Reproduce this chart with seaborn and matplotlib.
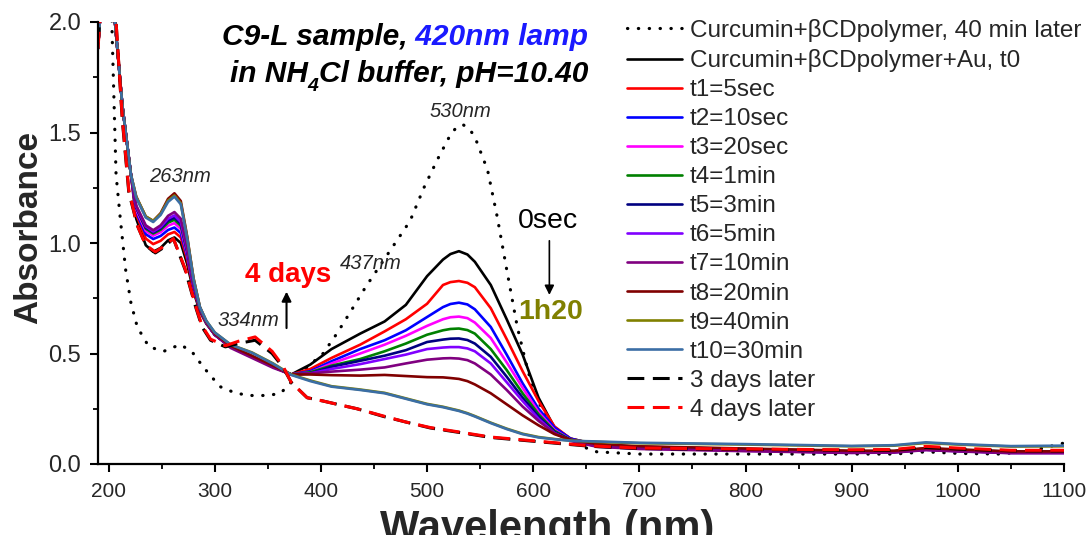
import numpy as np
import pandas as pd
import matplotlib
matplotlib.use("Agg")
import matplotlib.pyplot as plt
from matplotlib import font_manager
import seaborn as sns

# ---------------- data ----------------
wl_solid = [190, 196, 206, 213, 221,
            226, 235, 242, 249, 256, 262, 268, 274, 280, 286,
            292, 300, 315, 335, 355, 372,
            390, 410, 437, 460, 480, 500, 515, 522, 530, 538, 545, 560, 575, 590, 605, 620, 635,
            660, 700, 800, 900, 940, 970, 1000, 1050, 1100]
head = [1.88, 2.30, 2.00, 1.62, 1.31]

t0 = head + [1.11, 0.99, 0.96, 0.978, 1.012, 1.025, 1.00, 0.905, 0.78, 0.69,
             0.635, 0.585, 0.53, 0.485, 0.44, 0.405,
             0.45, 0.52, 0.59, 0.645, 0.72, 0.85, 0.925, 0.95, 0.963, 0.948, 0.915, 0.81, 0.655, 0.495, 0.30, 0.165, 0.115,
             0.088, 0.078, 0.068, 0.058, 0.058, 0.070, 0.064, 0.056, 0.056]
t1 = head + [1.13, 1.02, 0.995, 1.01, 1.039, 1.05, 1.025, 0.925, 0.79, 0.695,
             0.638, 0.585, 0.53, 0.485, 0.44, 0.405,
             0.43, 0.48, 0.54, 0.60, 0.655, 0.725, 0.81, 0.823, 0.828, 0.82, 0.80, 0.705, 0.565, 0.42, 0.285, 0.17, 0.115,
             0.087, 0.077, 0.067, 0.057, 0.057, 0.069, 0.063, 0.055, 0.055]
t2 = head + [1.14, 1.04, 1.018, 1.032, 1.059, 1.07, 1.045, 0.94, 0.80, 0.70,
             0.64, 0.585, 0.53, 0.485, 0.44, 0.405,
             0.42, 0.465, 0.52, 0.56, 0.605, 0.665, 0.71, 0.724, 0.73, 0.722, 0.70, 0.62, 0.495, 0.365, 0.25, 0.165, 0.115,
             0.086, 0.076, 0.066, 0.056, 0.057, 0.068, 0.062, 0.054, 0.054]
t3 = head + [1.15, 1.055, 1.033, 1.049, 1.078, 1.09, 1.064, 0.95, 0.805, 0.70,
             0.64, 0.585, 0.53, 0.485, 0.44, 0.405,
             0.415, 0.455, 0.50, 0.54, 0.58, 0.625, 0.655, 0.664, 0.667, 0.66, 0.64, 0.57, 0.46, 0.345, 0.235, 0.155, 0.11,
             0.085, 0.075, 0.065, 0.055, 0.056, 0.067, 0.061, 0.053, 0.053]
t4 = head + [1.16, 1.065, 1.043, 1.06, 1.092, 1.105, 1.078, 0.96, 0.81, 0.70,
             0.64, 0.585, 0.53, 0.485, 0.44, 0.405,
             0.415, 0.445, 0.475, 0.51, 0.545, 0.585, 0.605, 0.611, 0.613, 0.606, 0.59, 0.52, 0.425, 0.32, 0.225, 0.15, 0.11,
             0.084, 0.074, 0.064, 0.054, 0.055, 0.066, 0.060, 0.052, 0.052]
t5 = head + [1.16, 1.07, 1.048, 1.066, 1.101, 1.115, 1.087, 0.965, 0.81, 0.70,
             0.64, 0.585, 0.53, 0.485, 0.44, 0.405,
             0.41, 0.44, 0.467, 0.49, 0.515, 0.552, 0.563, 0.567, 0.568, 0.561, 0.545, 0.485, 0.395, 0.30, 0.215, 0.145, 0.108,
             0.082, 0.072, 0.062, 0.052, 0.054, 0.065, 0.059, 0.051, 0.051]
t6 = head + [1.165, 1.075, 1.052, 1.072, 1.11, 1.125, 1.095, 0.97, 0.815, 0.705,
             0.64, 0.585, 0.53, 0.485, 0.44, 0.405,
             0.41, 0.43, 0.452, 0.475, 0.495, 0.52, 0.527, 0.529, 0.529, 0.523, 0.51, 0.455, 0.37, 0.285, 0.205, 0.14, 0.106,
             0.080, 0.070, 0.060, 0.051, 0.053, 0.064, 0.058, 0.050, 0.050]
t7 = head + [1.17, 1.08, 1.058, 1.08, 1.123, 1.14, 1.11, 0.98, 0.82, 0.705,
             0.64, 0.585, 0.525, 0.48, 0.435, 0.405,
             0.41, 0.418, 0.427, 0.437, 0.455, 0.472, 0.478, 0.479, 0.477, 0.47, 0.455, 0.405, 0.335, 0.26, 0.195, 0.14, 0.105,
             0.078, 0.068, 0.058, 0.050, 0.052, 0.063, 0.057, 0.049, 0.049]
t8 = head + [1.21, 1.12, 1.10, 1.135, 1.20, 1.225, 1.19, 1.03, 0.84, 0.71,
             0.645, 0.59, 0.535, 0.49, 0.445, 0.405,
             0.405, 0.402, 0.40, 0.403, 0.398, 0.393, 0.392, 0.389, 0.385, 0.375, 0.36, 0.32, 0.27, 0.22, 0.175, 0.135, 0.11,
             0.090, 0.080, 0.070, 0.060, 0.060, 0.072, 0.066, 0.057, 0.057]
t9 = head + [1.21, 1.12, 1.10, 1.132, 1.192, 1.215, 1.18, 1.025, 0.84, 0.71,
             0.648, 0.595, 0.54, 0.505, 0.455, 0.405,
             0.378, 0.352, 0.337, 0.322, 0.297, 0.272, 0.259, 0.251, 0.242, 0.23, 0.217, 0.187, 0.16, 0.137, 0.122, 0.113, 0.106,
             0.100, 0.094, 0.088, 0.080, 0.083, 0.095, 0.088, 0.079, 0.080]
t10 = head + [1.205, 1.115, 1.095, 1.127, 1.186, 1.21, 1.175, 1.02, 0.835, 0.71,
              0.648, 0.595, 0.54, 0.503, 0.453, 0.403,
              0.375, 0.35, 0.335, 0.32, 0.295, 0.27, 0.257, 0.249, 0.24, 0.228, 0.215, 0.185, 0.158, 0.135, 0.12, 0.112, 0.105,
              0.102, 0.096, 0.090, 0.082, 0.085, 0.098, 0.090, 0.081, 0.083]

wl_dot = [200, 203, 207, 211, 216, 221, 227, 238, 252, 262, 268, 279, 289, 296, 305, 320, 334, 350, 362,
          378, 390, 402, 415, 428, 442, 456, 470, 484, 497, 510, 522, 528, 534, 540, 545, 557, 566, 575, 585, 595,
          605, 615, 625, 640, 660, 700, 800, 900, 940, 970, 1000, 1040, 1070, 1100]
dotted_40min = [2.30, 2.00, 1.31, 1.11, 0.88, 0.73, 0.62, 0.53, 0.51, 0.53, 0.54, 0.505, 0.44, 0.40, 0.35,
                0.32, 0.31, 0.31, 0.32, 0.40, 0.45, 0.50, 0.59, 0.69, 0.80, 0.90, 1.00, 1.10, 1.25, 1.38,
                1.49, 1.525, 1.535, 1.515, 1.48, 1.33, 1.12, 0.88, 0.62, 0.42, 0.28, 0.19, 0.14, 0.09, 0.055, 0.045,
                0.045, 0.045, 0.045, 0.055, 0.048, 0.045, 0.060, 0.095]

wl_dash = [190, 196, 207, 213, 219, 227, 235, 244, 252, 261, 272, 282, 288, 296, 310, 322, 338, 354, 364,
           372, 387, 402, 420, 434, 459, 480, 503, 530, 560, 607, 654, 700, 800, 900, 940, 970, 1000, 1050, 1100]
days3 = [1.90, 2.30, 2.00, 1.55, 1.23, 1.08, 0.99, 0.955, 0.98, 1.02, 0.88, 0.71, 0.62, 0.56, 0.53, 0.545,
         0.56, 0.50, 0.44, 0.37, 0.30, 0.285, 0.265, 0.25, 0.215, 0.19, 0.163, 0.143, 0.12, 0.10, 0.08,
         0.07, 0.066, 0.062, 0.063, 0.075, 0.068, 0.060, 0.060]
days4 = [1.88, 2.30, 2.00, 1.56, 1.24, 1.08, 0.99, 0.96, 0.985, 1.02, 0.885, 0.715, 0.625, 0.565, 0.535, 0.555,
         0.575, 0.51, 0.445, 0.37, 0.30, 0.285, 0.265, 0.25, 0.217, 0.19, 0.165, 0.145, 0.122, 0.102, 0.082,
         0.072, 0.068, 0.064, 0.066, 0.080, 0.072, 0.062, 0.062]

labels = ["Curcumin+\u03b2CDpolymer, 40 min later", "Curcumin+\u03b2CDpolymer+Au, t0",
          "t1=5sec", "t2=10sec", "t3=20sec", "t4=1min", "t5=3min", "t6=5min", "t7=10min",
          "t8=20min", "t9=40min", "t10=30min", "3 days later", "4 days later"]
colors = ["black", "black", "#ff0000", "#0000ff", "#ff00ff", "#008000", "#000080", "#8000ff",
          "#800080", "#800000", "#808000", "#3b6ea5", "black", "#ff0000"]

x_ticks = [200, 300, 400, 500, 600, 700, 800, 900, 1000, 1100]
x_ticklabels = ["200", "300", "400", "500", "600", "700", "800", "900", "1000", "1100"]
y_ticks = [0.0, 0.5, 1.0, 1.5, 2.0]
y_ticklabels = ["0.0", "0.5", "1.0", "1.5", "2.0"]

# ---------------- build long table ----------------
series_x = [wl_dot, wl_solid, wl_solid, wl_solid, wl_solid, wl_solid, wl_solid, wl_solid, wl_solid,
            wl_solid, wl_solid, wl_solid, wl_dash, wl_dash]
series_y = [dotted_40min, t0, t1, t2, t3, t4, t5, t6, t7, t8, t9, t10, days3, days4]
frames = []
for lab, xs, ys in zip(labels, series_x, series_y):
    frames.append(pd.DataFrame({"wavelength": xs, "absorbance": ys, "series": lab}))
df = pd.concat(frames, ignore_index=True)

# ---------------- style ----------------
sns.set_style("ticks")
plt.rcParams["font.family"] = ["Liberation Sans", "DejaVu Sans"]
names = {f.name for f in font_manager.fontManager.ttflist}
narrow = "Liberation Sans Narrow" if "Liberation Sans Narrow" in names else None

W, H = 1092, 535
fig = plt.figure(figsize=(W / 100, H / 100), dpi=100)
ax = fig.add_axes([98 / W, 1 - 464 / H, (1064 - 98) / W, (464 - 22) / H])

dot_ls = (0, (0.1, 3.3))
dash_ls = (0, (5.5, 2.8))
for i, lab in enumerate(labels):
    sub = df[df["series"] == lab]
    if i == 0:
        kw = dict(linestyle=dot_ls, lw=2.3, dash_capstyle="round")
    elif i >= 12:
        kw = dict(linestyle=dash_ls, lw=2.2)
    else:
        kw = dict(linestyle="-", lw=1.9)
    sns.lineplot(data=sub, x="wavelength", y="absorbance", ax=ax, color=colors[i], label=lab,
                 sort=False, estimator=None, legend=False, **kw)

ax.set_xlim(190, 1100)
ax.set_ylim(0, 2.0)
sns.despine(ax=ax)
for s in ["left", "bottom"]:
    ax.spines[s].set_linewidth(1.6)
    ax.spines[s].set_color("black")

if narrow:
    ax.set_xticks(x_ticks, labels=x_ticklabels, fontfamily=narrow, fontsize=18)
else:
    ax.set_xticks(x_ticks, labels=x_ticklabels, fontsize=15)
ax.set_yticks(y_ticks, labels=y_ticklabels, fontsize=17)
ax.set_xticks(np.arange(250, 1100, 100), minor=True)
ax.set_yticks([0.25, 0.75, 1.25, 1.75], minor=True)
ax.tick_params(which="major", direction="out", length=6, width=1.5, color="black", pad=6)
ax.tick_params(which="minor", direction="out", length=3.5, width=1.3, color="black")
ax.tick_params(axis="x", which="major", pad=7)

ax.set_xlabel("Wavelength (nm)", fontsize=30, fontweight="bold")
ax.set_ylabel("Absorbance", fontsize=24, fontweight="bold")
ax.xaxis.set_label_coords((547 - 98) / 966, (464 - 509) / 442)
ax.yaxis.set_label_coords(-0.056, 0.534)

# legend
handles, labs = ax.get_legend_handles_labels()
leg = ax.legend(handles, labs, loc="upper left", bbox_to_anchor=(627 / W, 1 - 19 / H),
                bbox_transform=fig.transFigure, frameon=False, fontsize=17.5, handlelength=2.25,
                handletextpad=0.33, labelspacing=0.29, borderpad=0, borderaxespad=0)

# annotations
ann = dict(fontsize=14.5, fontstyle="italic", ha="center", va="center")
ax.text(266.8, 1.30, "263nm", **ann)
ax.text(531.4, 1.595, "530nm", **ann)
ax.text(446.7, 0.905, "437nm", **ann)
ax.text(331.8, 0.65, "334nm", **ann)
ax.text(369.5, 0.855, "4 days", color="#ff0000", fontsize=20, fontweight="bold", ha="center", va="center")
ax.text(614.2, 1.10, "0sec", color="black", fontsize=20.5, ha="center", va="center")
ax.text(616.1, 0.686, "1h20", color="#808000", fontsize=20.5, fontweight="bold", ha="center", va="center")
ax.annotate("", xy=(367.6, 0.78), xytext=(367.6, 0.615),
            arrowprops=dict(arrowstyle="-|>", color="black", lw=1.5, mutation_scale=14,
                            shrinkA=0, shrinkB=0))
ax.annotate("", xy=(615.2, 0.765), xytext=(615.2, 1.01),
            arrowprops=dict(arrowstyle="-|>", color="black", lw=1.2, mutation_scale=14,
                            shrinkA=0, shrinkB=0))

# title (two lines, right aligned)
fig.canvas.draw()
r = fig.canvas.get_renderer()
tkw = dict(fontsize=21.5, fontweight="bold", fontstyle="italic", va="baseline", ha="right")
xr = 588 / W
t_b = fig.text(xr, 1 - 45 / H, " 420nm lamp", color="#1a1aff", **tkw)
bb = t_b.get_window_extent(r)
fig.text(bb.x0 / W, 1 - 45 / H, "C9-L sample,", color="black", **tkw)
t_c = fig.text(xr, 1 - 82 / H, "Cl buffer, pH=10.40", color="black", **tkw)
bb = t_c.get_window_extent(r)
t_4 = fig.text(bb.x0 / W, 1 - 91 / H, "4", color="black", fontsize=14, fontweight="bold",
               fontstyle="italic", va="baseline", ha="right")
bb = t_4.get_window_extent(r)
fig.text(bb.x0 / W, 1 - 82 / H, "in NH", color="black", **tkw)

fig.savefig("out.png", dpi=100)
